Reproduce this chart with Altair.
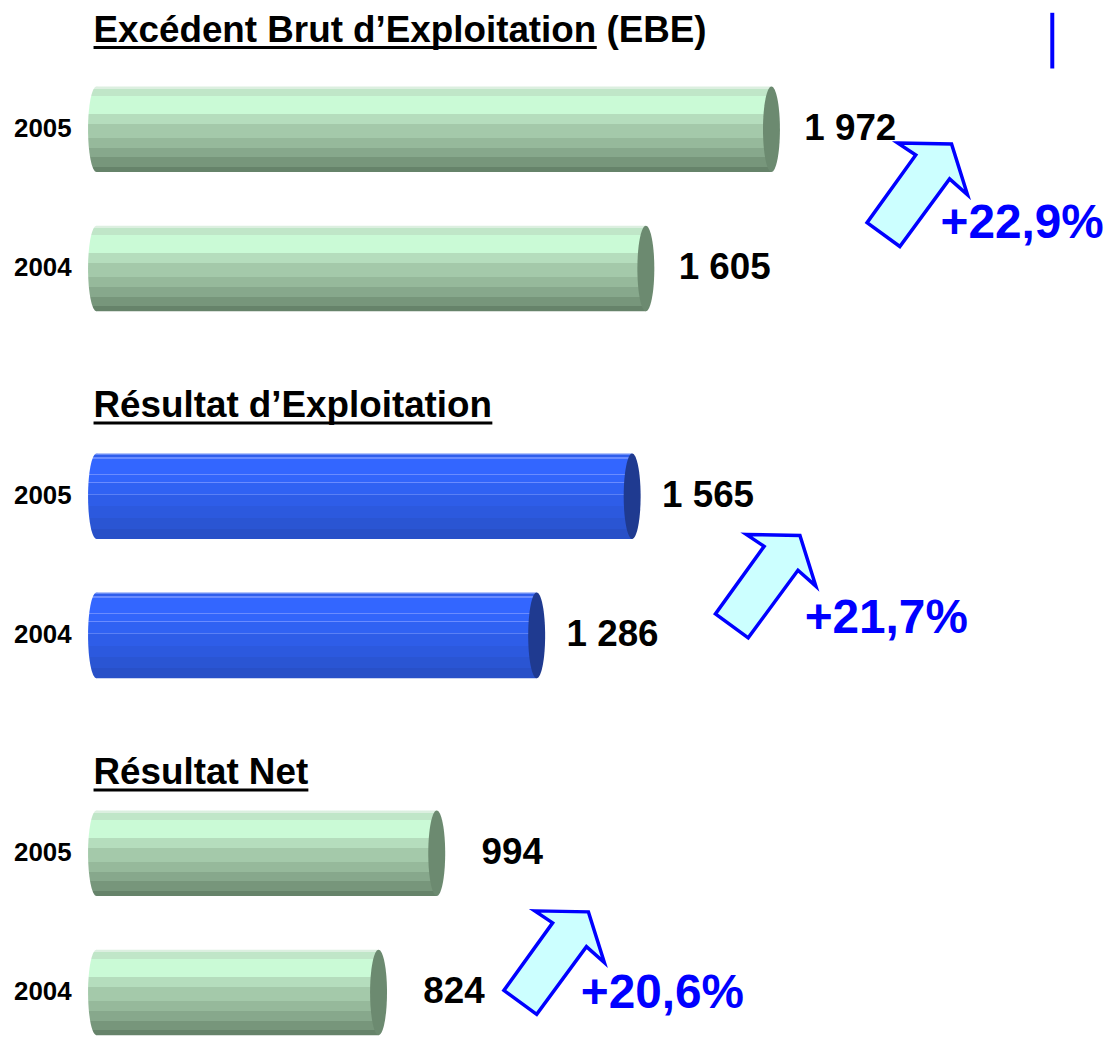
import altair as alt
import pandas as pd

# ---------------- data ----------------
GROUPS = ["Excédent Brut d’Exploitation (EBE)", "Résultat d’Exploitation", "Résultat Net"]
YEARS = ["2005", "2004"]
VALUES_2005 = [1972, 1565, 994]
VALUES_2004 = [1605, 1286, 824]
PCT_LABELS = ["+22,9%", "+21,7%", "+20,6%"]

# ---------------- styles / layout ----------------
FONT = "Liberation Sans"
W, H = 998, 226
BAND, STEP = 86, 140
XMAX = 2900
SPACING = 76

TITLE_Y = [-56, -47.5, -37.5]
UNDERLINE_LEN = [506, 401, 216]
LABEL_DX = [33, 30, 45]
ARROW_X = [2398, 1955, 1337]
ARROW_Y = [109, 133.5, 153]
PCT_X = [2466, 2069, 1415]
PCT_Y = [138, 167, 185]

GREEN_BANDS = [
    (0.00, 0.025, "#DCEFE0"), (0.025, 0.11, "#C0E6C8"), (0.11, 0.32, "#CAFAD6"),
    (0.32, 0.44, "#B5DDBD"), (0.44, 0.60, "#A4C9AA"), (0.60, 0.72, "#96B99B"),
    (0.72, 0.83, "#87A88C"), (0.83, 0.94, "#77967B"), (0.94, 1.00, "#66836A"),
]
BLUE_BANDS = [
    (0.00, 0.02, "#6A8CF5"), (0.02, 0.045, "#2F5EEC"), (0.045, 0.06, "#6A8CFF"),
    (0.06, 0.24, "#3366FF"), (0.24, 0.255, "#6A8CFF"), (0.255, 0.33, "#3265FB"),
    (0.33, 0.345, "#6A8CFF"), (0.345, 0.47, "#3062F3"), (0.47, 0.485, "#5A80F5"),
    (0.485, 0.62, "#2E5DE8"), (0.62, 0.75, "#2C59DE"), (0.75, 0.88, "#2A55D3"),
    (0.88, 1.00, "#2850C8"),
]
GREEN_CAP = "#6C8A70"
BLUE_CAP = "#1F3A90"

ELLIPSE = ("M0,-1 C0.1094,-1 0.198,-0.5523 0.198,0 C0.198,0.5523 0.1094,1 0,1 "
           "C-0.1094,1 -0.198,0.5523 -0.198,0 C-0.198,-0.5523 -0.1094,-1 0,-1 Z")
ARROW = ("M-0.375,-1 L0.663,-0.981 L0.971,0 L0.625,-0.308 L-0.337,1 "
         "L-0.971,0.538 L-0.029,-0.769 Z")


def grad(bands):
    stops = []
    for a, b, c in bands:
        stops.append(alt.GradientStop(offset=a, color=c))
        stops.append(alt.GradientStop(offset=b, color=c))
    return alt.LinearGradient(gradient="linear", stops=stops, x1=0, x2=0, y1=0, y2=1)


STYLES = [
    (grad(GREEN_BANDS), GREEN_CAP),
    (grad(BLUE_BANDS), BLUE_CAP),
    (grad(GREEN_BANDS), GREEN_CAP),
]

xscale = alt.Scale(domain=[0, XMAX], nice=False, zero=True)


def panel(i):
    fill, cap = STYLES[i]
    df = pd.DataFrame({"year": YEARS, "value": [VALUES_2005[i], VALUES_2004[i]]})
    df["label"] = df["value"].map(lambda v: f"{v:,}".replace(",", " "))

    base = alt.Chart(df).encode(
        y=alt.Y(
            "year:N",
            sort=YEARS,
            scale=alt.Scale(paddingInner=1 - BAND / STEP, paddingOuter=0),
            axis=alt.Axis(
                title=None, ticks=False, domain=False, grid=False,
                labelFont=FONT, labelFontSize=26, labelFontWeight="bold",
                labelColor="black", labelPadding=25.6,
            ),
        )
    )

    bar = base.mark_bar(fill=fill, strokeWidth=0).encode(
        x=alt.X("value:Q", scale=xscale, axis=None)
    )
    left_cap = base.mark_point(
        shape=ELLIPSE, size=BAND * BAND, filled=True, fill=fill, opacity=1, strokeWidth=0
    ).encode(x=alt.datum(0))
    right_cap = base.mark_point(
        shape=ELLIPSE, size=BAND * BAND, filled=True, fill=cap, opacity=1, strokeWidth=0
    ).encode(x="value:Q")
    labels = base.mark_text(
        align="left", baseline="middle", dx=LABEL_DX[i], font=FONT,
        fontSize=37, fontWeight="bold", color="black",
    ).encode(x="value:Q", text="label:N")

    tdf = pd.DataFrame({"t": [GROUPS[i]], "p": [PCT_LABELS[i]]})
    tbase = alt.Chart(tdf)
    title = tbase.mark_text(
        align="left", baseline="middle", font=FONT, fontSize=37,
        fontWeight="bold", color="black",
    ).encode(x=alt.value(-3), y=alt.value(TITLE_Y[i]), text="t:N")
    underline = tbase.mark_rule(color="black", strokeWidth=3).encode(
        x=alt.value(-3), x2=alt.value(-3 + UNDERLINE_LEN[i]), y=alt.value(TITLE_Y[i] + 17)
    )
    arrow = tbase.mark_point(
        shape=ARROW, size=104 * 104, filled=True, fill="#CCFFFF", stroke="#0000FF",
        strokeWidth=3.5, opacity=1, strokeJoin="miter",
    ).encode(x=alt.datum(ARROW_X[i]), y=alt.value(ARROW_Y[i]))
    pct = tbase.mark_text(
        align="left", baseline="middle", font=FONT, fontSize=48,
        fontWeight="bold", color="#0000FF",
    ).encode(x=alt.datum(PCT_X[i]), y=alt.value(PCT_Y[i]), text="p:N")

    layers = [bar, left_cap, right_cap, labels, title, underline, arrow, pct]
    if i == 0:
        vline = tbase.mark_rule(color="#0000FF", strokeWidth=4).encode(
            x=alt.value(961), y=alt.value(-74), y2=alt.value(-18)
        )
        layers.append(vline)
    return alt.layer(*layers).properties(width=W, height=H)


chart = (
    alt.vconcat(panel(0), panel(1), panel(2), spacing=SPACING)
    .properties(padding={"left": 5, "top": 0, "right": 0, "bottom": 0}, background="white")
    .configure_view(strokeWidth=0)
)

chart.save("out.html", embed_options={"renderer": "svg", "actions": False})
